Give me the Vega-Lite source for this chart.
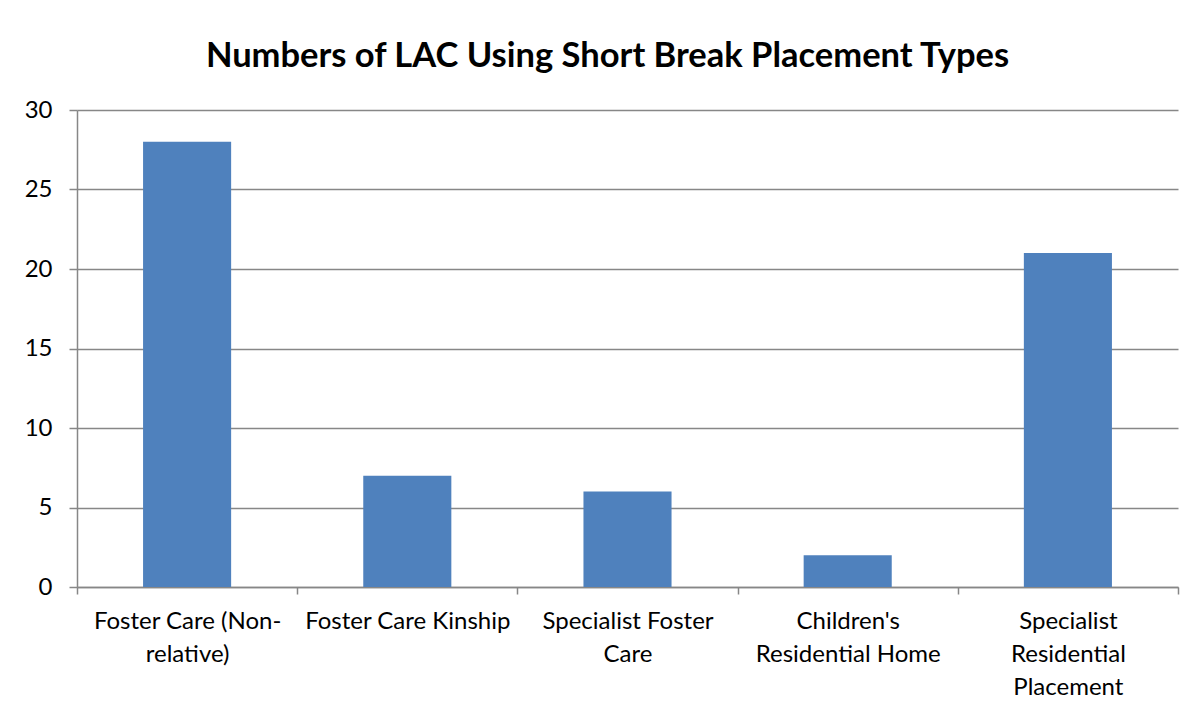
{
  "$schema": "https://vega.github.io/schema/vega-lite/v6.json",
  "width": 1101,
  "height": 477,
  "autosize": {"type": "none"},
  "padding": {"left": 77, "top": 110, "right": 18, "bottom": 124},
  "background": "white",
  "title": {
    "text": "Numbers of LAC Using Short Break Placement Types",
    "font": "Lato",
    "fontSize": 34.5,
    "fontWeight": "bold",
    "color": "black",
    "anchor": "middle",
    "baseline": "alphabetic",
    "offset": -3,
    "dx": -20
  },
  "data": {
    "values": [
      {"type": "Foster Care (Non-relative)", "count": 28},
      {"type": "Foster Care Kinship", "count": 7},
      {"type": "Specialist Foster Care", "count": 6},
      {"type": "Children's Residential Home", "count": 2},
      {"type": "Specialist Residential Placement", "count": 21}
    ]
  },
  "mark": {"type": "bar", "color": "#4F81BD"},
  "encoding": {
    "x": {
      "field": "type",
      "type": "nominal",
      "sort": null,
      "title": null,
      "scale": {"paddingInner": 0.6, "paddingOuter": 0.3},
      "axis": {
        "labelAngle": 0,
        "ticks": true,
        "bandPosition": 2.5,
        "tickOffset": -66,
        "tickExtra": true,
        "labelOffset": 66,
        "domainColor": "#878787",
        "tickColor": "#878787",
        "tickSize": 7,
        "domainWidth": 1.5,
        "tickWidth": 1.5,
        "labelFont": "Lato",
        "labelFontSize": 24,
        "labelColor": "black",
        "labelPadding": 15,
        "labelLineHeight": 33,
        "labelLimit": 0,
        "labelBaseline": "top",
        "labelExpr": "datum.value == 'Foster Care (Non-relative)' ? ['Foster Care (Non-', 'relative)'] : datum.value == 'Specialist Foster Care' ? ['Specialist Foster', 'Care'] : datum.value == \"Children's Residential Home\" ? [\"Children's\", 'Residential Home'] : datum.value == 'Specialist Residential Placement' ? ['Specialist', 'Residential', 'Placement'] : datum.value"
      }
    },
    "y": {
      "field": "count",
      "type": "quantitative",
      "title": null,
      "scale": {"domain": [0, 30]},
      "axis": {
        "values": [0, 5, 10, 15, 20, 25, 30],
        "grid": true,
        "gridColor": "#878787",
        "gridWidth": 1.5,
        "domainColor": "#878787",
        "domainWidth": 1.5,
        "tickColor": "#878787",
        "tickWidth": 1.5,
        "tickSize": 8,
        "labelFont": "Lato",
        "labelFontSize": 24,
        "labelColor": "black",
        "labelPadding": 17
      }
    }
  },
  "config": {
    "view": {"stroke": null},
    "font": "Lato"
  }
}
